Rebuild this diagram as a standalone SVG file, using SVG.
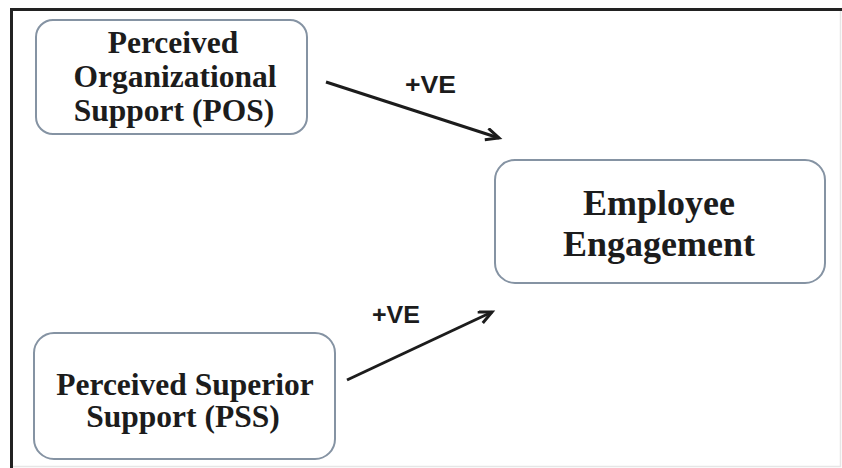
<svg xmlns="http://www.w3.org/2000/svg" width="842" height="468" viewBox="0 0 842 468">
  <style>
    .box { fill: #ffffff; stroke: #8593a3; stroke-width: 2; }
    .lbl { font-family: "Liberation Serif", "Times New Roman", serif; font-weight: bold; fill: #1c1c1c; text-anchor: middle; }
    .sign { font-family: "Liberation Sans", Arial, sans-serif; font-weight: bold; font-size: 23px; fill: #1c1c1c; }
    .conn { stroke: #1c1c1c; stroke-width: 3; fill: none; }
  </style>
  <defs>
    <marker id="arrow" markerUnits="userSpaceOnUse" markerWidth="20" markerHeight="20" refX="14" refY="7" orient="auto">
      <path d="M1,1 L14,7 L1,13" fill="none" stroke="#1c1c1c" stroke-width="3" stroke-linejoin="miter"/>
    </marker>
  </defs>

  <!-- canvas and frame -->
  <rect x="0" y="0" width="842" height="468" fill="#ffffff"/>
  <rect x="11.5" y="9.5" width="829" height="457" fill="none" stroke="#e6e6e6" stroke-width="1.5"/>
  <line x1="10" y1="9.5" x2="842" y2="9.5" stroke="#222222" stroke-width="3"/>
  <line x1="11.5" y1="8" x2="11.5" y2="468" stroke="#222222" stroke-width="3"/>

  <!-- Perceived Organizational Support -->
  <g id="pos">
    <rect class="box" x="36" y="20" width="271" height="114" rx="17"/>
    <text class="lbl" font-size="31.5" x="173" y="53">Perceived</text>
    <text class="lbl" font-size="31.5" x="175" y="87">Organizational</text>
    <text class="lbl" font-size="31.5" x="174" y="121">Support (POS)</text>
  </g>

  <!-- Employee Engagement -->
  <g id="engagement">
    <rect class="box" x="495" y="160" width="330" height="123" rx="20"/>
    <text class="lbl" font-size="36" x="659" y="215">Employee</text>
    <text class="lbl" font-size="36" x="659" y="256">Engagement</text>
  </g>

  <!-- Perceived Superior Support -->
  <g id="pss">
    <rect class="box" x="34" y="333" width="301" height="126" rx="20"/>
    <text class="lbl" font-size="31.5" x="185" y="395">Perceived Superior</text>
    <text class="lbl" font-size="31.5" x="183" y="427">Support (PSS)</text>
  </g>

  <!-- connectors -->
  <g id="connectors">
    <line class="conn" x1="326" y1="82" x2="499" y2="138" marker-end="url(#arrow)"/>
    <text class="sign" x="405" y="93" textLength="51" lengthAdjust="spacingAndGlyphs">+VE</text>
    <line class="conn" x1="347" y1="380" x2="492" y2="312" marker-end="url(#arrow)"/>
    <text class="sign" x="372" y="323" textLength="48" lengthAdjust="spacingAndGlyphs">+VE</text>
  </g>
</svg>
